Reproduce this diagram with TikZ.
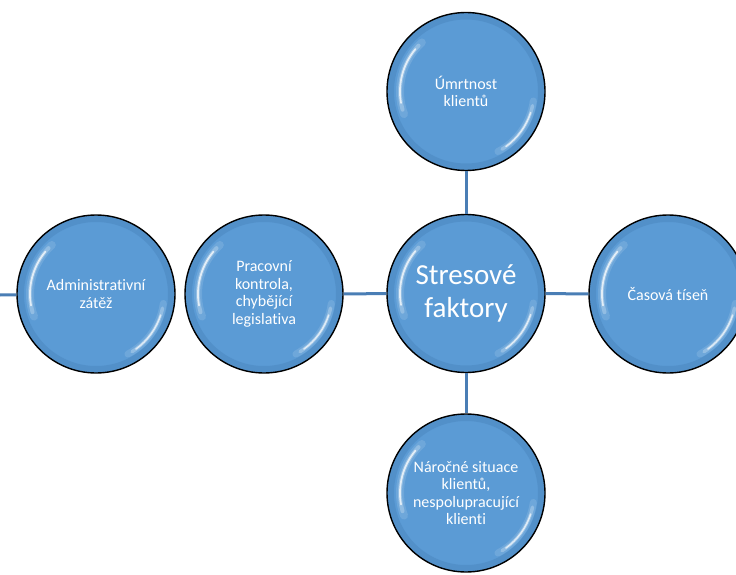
\documentclass[tikz,border=0pt]{standalone}
\usepackage{fontspec}
\setmainfont[Ligatures=NoCommon]{Carlito}
\definecolor{bubblefill}{HTML}{5B9BD5}
\definecolor{rimblue}{HTML}{3F78B0}
\definecolor{linkblue}{HTML}{4A7EB5}
\begin{document}
\begin{tikzpicture}[x=1pt,y=1pt,
  bubble/.style={circle, minimum size=158pt, inner sep=0pt, fill=bubblefill,
    draw=black, line width=1.4pt, text=white, align=center,
    font=\fontsize{16}{17.5}\selectfont,
    path picture={
      \coordinate (pc) at (path picture bounding box.center);
      % soft darker rim just inside the outline
      \draw[rimblue, line width=8pt, opacity=0.3] (pc) circle (76);
      % bevel highlight, upper left
      \draw[white, line width=8pt, opacity=0.12, line cap=round]
        ([shift={(132:66)}]pc) arc[start angle=132, end angle=200, radius=66];
      \draw[white, line width=4pt, opacity=0.25, line cap=round]
        ([shift={(136:66)}]pc) arc[start angle=136, end angle=196, radius=66];
      \draw[white, line width=1.8pt, opacity=0.75, line cap=round]
        ([shift={(140:66)}]pc) arc[start angle=140, end angle=190, radius=66];
      % bevel highlight, lower right
      \draw[white, line width=7pt, opacity=0.12, line cap=round]
        ([shift={(-62:68)}]pc) arc[start angle=-62, end angle=-8, radius=68];
      \draw[white, line width=3.5pt, opacity=0.25, line cap=round]
        ([shift={(-58:68)}]pc) arc[start angle=-58, end angle=-12, radius=68];
      \draw[white, line width=1.6pt, opacity=0.7, line cap=round]
        ([shift={(-54:68)}]pc) arc[start angle=-54, end angle=-18, radius=68];
    }},
  conn/.style={draw=linkblue, line width=3pt}]
\useasboundingbox (0,0) rectangle (736,-575);
\clip (0,0) rectangle (736,-575);

% central topic
\node[bubble, font=\fontsize{29}{33}\selectfont] (hub) at (466,-293.5) {Stresové\\faktory};

% surrounding factors
\node[bubble] (top)   at (466,-91.5) {Úmrtnost\\klientů};
\node[bubble] (bot)   at (466,-493)  {Náročné situace\\klientů,\\nespolupracující\\klienti};
\node[bubble] (right) at (668,-294)  {Časová tíseň};
\node[bubble] (work)  at (264,-294)  {Pracovní\\kontrola,\\chybějící\\legislativa};
\node[bubble] (admin) at (96,-294)   {Administrativní\\zátěž};

\coordinate (lead) at (0,-295);

% connectors
\draw[conn] (hub) -- (top);
\draw[conn] (hub) -- (bot);
\draw[conn] (hub) -- (right);
\draw[conn] (hub) -- (work);
\draw[conn] (lead) -- (admin);
\end{tikzpicture}
\end{document}
